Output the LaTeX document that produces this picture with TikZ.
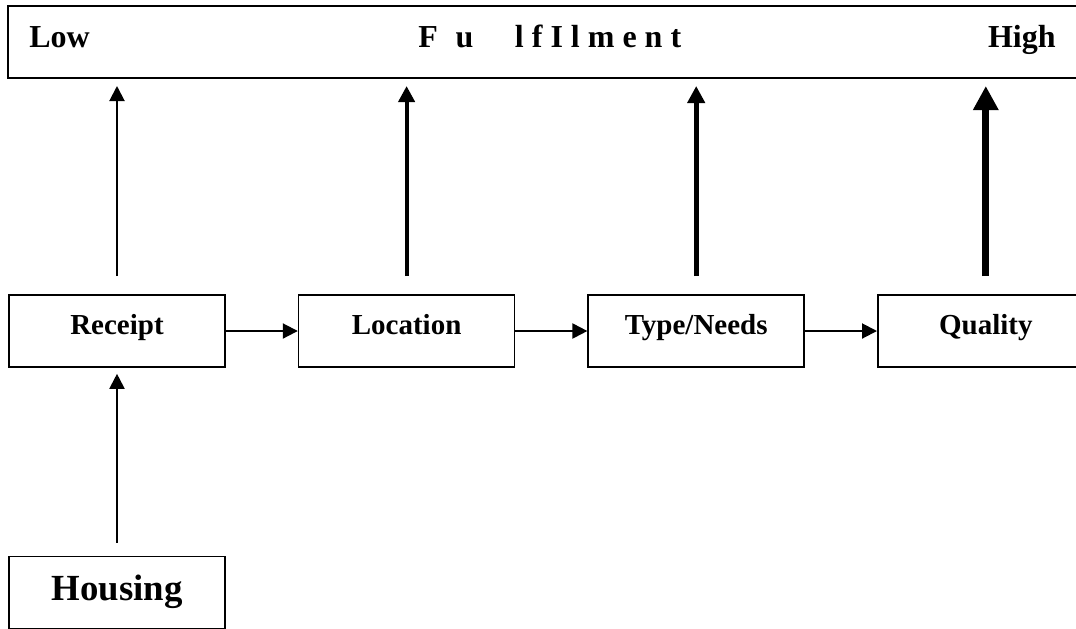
\documentclass[tikz,border=0pt]{standalone}
\usepackage{fontspec}
\setmainfont{Liberation Serif}
\usetikzlibrary{arrows.meta,positioning}

\tikzset{
  stage/.style={draw, line width=0.8pt, minimum width=108pt, minimum height=36pt, inner sep=0pt,
    text height=0.6em, text depth=0.3em, font=\fontsize{14.5}{17}\selectfont\bfseries},
  endlabel/.style={inner sep=0pt, font=\fontsize{16}{19}\selectfont\bfseries},
  flow/.style={-{Triangle[length=7.5pt,width=7.5pt]}, line width=1pt},
}

\begin{document}
\begin{tikzpicture}[x=0.5pt,y=-0.5pt]
\def\gap{36pt};
\useasboundingbox (0,0) rectangle (1076,628);

% fulfilment bar
\node[draw, line width=1pt, minimum width=541pt, minimum height=36pt, inner sep=0pt] (bar) at (549,42) {};
\node[endlabel, anchor=base west] (low) at (29,47) {Low};
\node[endlabel, anchor=base west] (fulfil) at (418,47) {F\hspace{0.55em}u\hspace{1.3em}l f I l m e n t};
\node[endlabel, anchor=base east] (high) at (1056,47) {High};

% stages
\node[stage] (rec) at (117,331) {Receipt};
\node[stage, right=\gap of rec] (loc) {Location};
\node[stage, right=\gap of loc] (type) {Type/Needs};
\node[stage, right=\gap of type] (qual) {Quality};

\node[stage, below=94pt of rec, text height=0.8em, text depth=0em,
  font=\fontsize{18.4}{22}\selectfont\bfseries] (house) {Housing};

\draw[flow] (rec) -- (loc);
\draw[flow] (loc) -- (type);
\draw[flow] (type) -- (qual);

\draw[flow, shorten <=6.5pt, shorten >=3pt] (house) -- (rec);

% arrows up to the bar, getting thicker
\draw[flow, shorten <=9pt, shorten >=3.5pt] (rec.north) -- (rec.north |- bar.south);
\draw[-{Triangle[length=8pt,width=8pt]}, line width=2pt, shorten <=9pt, shorten >=3.5pt] (loc.north) -- (loc.north |- bar.south);
\draw[-{Triangle[length=8.5pt,width=8.5pt]}, line width=2.65pt, shorten <=9pt, shorten >=3.5pt] (type.north) -- (type.north |- bar.south);
\draw[-{Triangle[length=12pt,width=12pt]}, line width=3.65pt, shorten <=9pt, shorten >=3.5pt] (qual.north) -- (qual.north |- bar.south);

\end{tikzpicture}
\end{document}
